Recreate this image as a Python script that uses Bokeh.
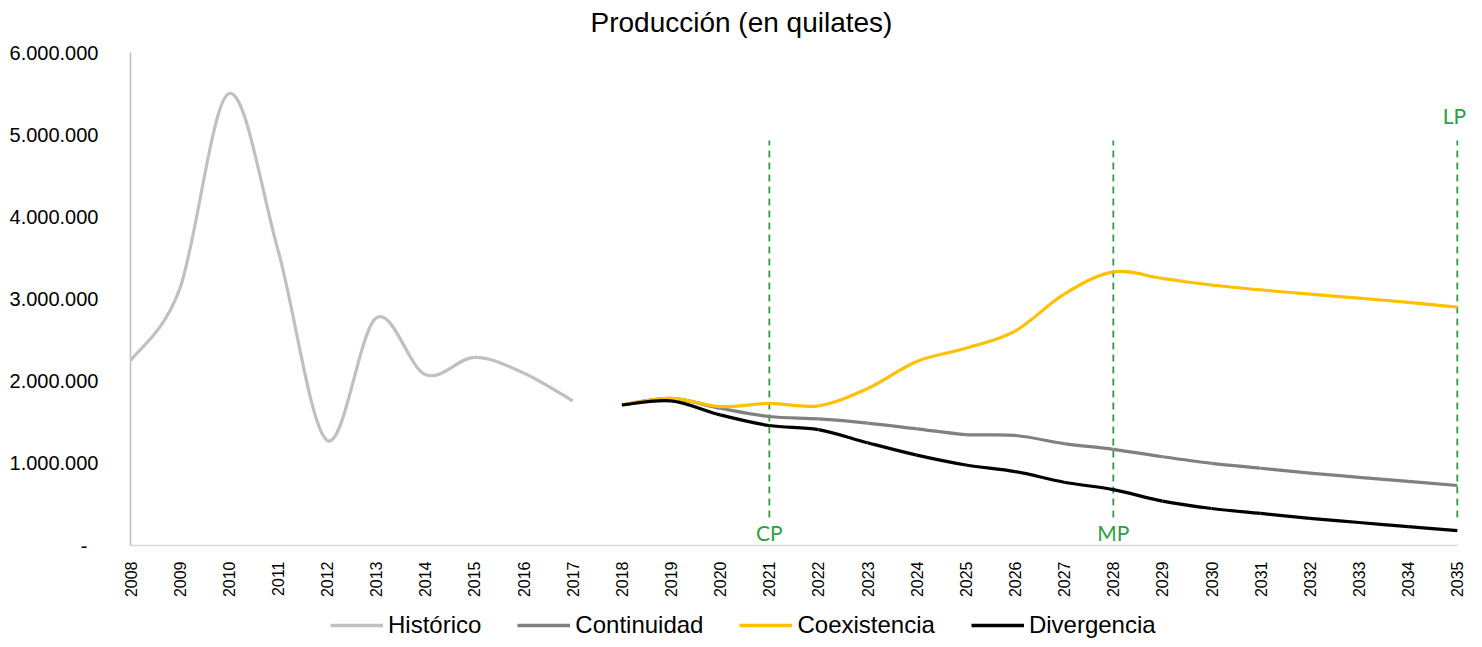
import numpy as np
from bokeh.plotting import figure
from bokeh.layouts import column
from bokeh.models import Range1d, FixedTicker, Legend, LegendItem, Label, ColumnDataSource
from bokeh.embed import file_html
from bokeh.resources import INLINE

# ---------------- data ----------------
years_hist = list(range(2008, 2018))
historico = [2250000, 3120000, 5500000, 3600000, 1280000, 2770000, 2080000, 2290000, 2100000, 1760000]

years_proj = list(range(2018, 2036))
continuidad = [1710000, 1790000, 1670000, 1570000, 1540000, 1490000, 1420000, 1350000, 1340000,
               1240000, 1170000, 1080000, 1000000, 940000, 880000, 830000, 780000, 730000]
coexistencia = [1710000, 1790000, 1690000, 1730000, 1700000, 1910000, 2240000, 2400000, 2610000,
                3060000, 3330000, 3250000, 3170000, 3110000, 3060000, 3010000, 2960000, 2900000]
divergencia = [1710000, 1760000, 1590000, 1460000, 1410000, 1250000, 1100000, 980000, 900000,
               770000, 680000, 540000, 450000, 390000, 330000, 280000, 230000, 180000]

x_ticks = list(range(2008, 2036))
y_ticks = [0, 1000000, 2000000, 3000000, 4000000, 5000000, 6000000]
y_tick_labels = ["-\u00a0\u00a0", "1.000.000", "2.000.000", "3.000.000", "4.000.000", "5.000.000", "6.000.000"]

horizons = [2021, 2028, 2035]
horizon_labels = ["CP", "MP", "LP"]

series_names = ["Histórico", "Continuidad", "Coexistencia", "Divergencia"]
title_text = "Producción (en quilates)"

# ---------------- helpers ----------------
def smooth_segments(xs, ys):
    """Excel-like smoothed line: cubic Bezier segments through the data points."""
    xs = np.asarray(xs, float)
    ys = np.asarray(ys, float)
    n = len(xs)
    d = dict(x0=[], y0=[], x1=[], y1=[], cx0=[], cy0=[], cx1=[], cy1=[])
    for i in range(n - 1):
        i0 = max(i - 1, 0)
        i3 = min(i + 2, n - 1)
        d["x0"].append(xs[i]); d["y0"].append(ys[i])
        d["x1"].append(xs[i + 1]); d["y1"].append(ys[i + 1])
        d["cx0"].append(xs[i] + (xs[i + 1] - xs[i0]) / 6.0)
        d["cy0"].append(ys[i] + (ys[i + 1] - ys[i0]) / 6.0)
        d["cx1"].append(xs[i + 1] - (xs[i3] - xs[i]) / 6.0)
        d["cy1"].append(ys[i + 1] - (ys[i3] - ys[i]) / 6.0)
    return ColumnDataSource(d)

def strip(height):
    f = figure(width=W, height=height, output_backend="svg", toolbar_location=None,
               x_range=Range1d(0, W - 130), y_range=Range1d(0, height),
               min_border=0, min_border_left=130)
    f.axis.visible = False
    f.xgrid.visible = False
    f.ygrid.visible = False
    f.outline_line_color = None
    f.background_fill_color = "white"
    f.border_fill_color = "white"
    return f

W = 1474
TOP_H = 40

# ---------------- title strip ----------------
tf = strip(TOP_H)
tf.add_layout(Label(x=460, y=18, text=title_text, text_align="left", text_baseline="middle",
                    text_font="Liberation Sans", text_font_size="28px", text_color="#000000"))

# ---------------- main figure ----------------
p = figure(width=W, height=560, output_backend="svg", toolbar_location=None,
           x_range=Range1d(2008, 2035.35), y_range=Range1d(0, 6000000),
           min_border_left=130, min_border_right=0, min_border_top=12, min_border_bottom=55)
p.outline_line_color = None
p.xgrid.visible = False
p.ygrid.visible = False
p.background_fill_color = "white"
p.border_fill_color = "white"

ax = p.xaxis[0]
ax.ticker = FixedTicker(ticks=x_ticks)
ax.bounds = (2008, 2035)
ax.major_label_orientation = np.pi / 2
ax.major_label_text_font = "Liberation Sans"
ax.major_label_text_font_size = "16px"
ax.major_label_text_color = "#000000"
ax.major_tick_line_color = None
ax.minor_tick_line_color = None
ax.axis_line_color = "#D9D9D9"
ax.axis_line_width = 1.5
ax.major_label_standoff = 10

ay = p.yaxis[0]
ay.ticker = FixedTicker(ticks=y_ticks)
ay.major_label_overrides = {t: lab for t, lab in zip(y_ticks, y_tick_labels)}
ay.major_label_text_font = "Liberation Sans"
ay.major_label_text_font_size = "20px"
ay.major_label_text_color = "#000000"
ay.major_tick_line_color = None
ay.minor_tick_line_color = None
ay.axis_line_color = "#BFBFBF"
ay.axis_line_width = 1.5
ay.major_label_standoff = 26

# horizon markers
green = "#2F9E44"
for h in horizons:
    p.segment(x0=[h], y0=[340000], x1=[h], y1=[4930000], line_color=green,
              line_width=1.8, line_dash="7 5")
label_pos = {"CP": (2021, 160000), "MP": (2028, 160000), "LP": (2034.94, 5230000)}
for lab in horizon_labels:
    lx, ly = label_pos[lab]
    p.add_layout(Label(x=lx, y=ly, text=lab, text_align="center",
                       text_baseline="middle", text_font="Lato",
                       text_font_size="21px", text_color=green))

# series
colors = ["#C0C0C0", "#808080", "#FFC000", "#000000"]
data = [(years_hist, historico), (years_proj, continuidad),
        (years_proj, coexistencia), (years_proj, divergencia)]
for name, col, (xs, ys) in zip(series_names, colors, data):
    src = smooth_segments(xs, ys)
    p.bezier(x0="x0", y0="y0", x1="x1", y1="y1", cx0="cx0", cy0="cy0",
             cx1="cx1", cy1="cy1", source=src, line_color=col, line_width=3.2)

# ---------------- legend strip ----------------
lf = strip(39)
legend_items = []
for name, col in zip(series_names, colors):
    r = lf.line(x=np.array([np.nan, np.nan]), y=np.array([np.nan, np.nan]),
                line_color=col, line_width=3.5)
    legend_items.append(LegendItem(label=name, renderers=[r]))

legend = Legend(items=legend_items, orientation="horizontal", location=(200, 0),
                padding=0, margin=0, spacing=36, glyph_width=53, glyph_height=28,
                label_height=28, label_standoff=5,
                label_text_font="Liberation Sans",
                label_text_font_size="24px", label_text_color="#000000",
                border_line_alpha=0, background_fill_alpha=0)
lf.add_layout(legend, "center")

layout = column(tf, p, lf, spacing=0)
open("out.html", "w").write(file_html(layout, INLINE))
